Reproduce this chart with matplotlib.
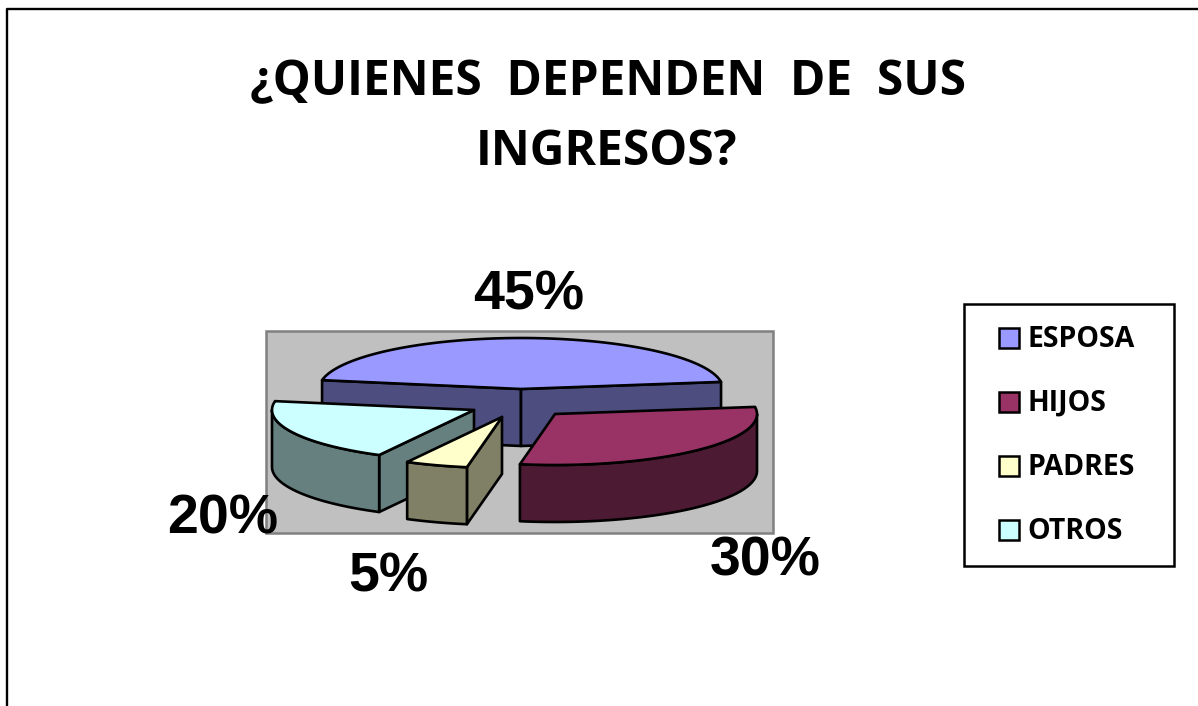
import matplotlib
matplotlib.use('Agg')
import matplotlib.pyplot as plt
from matplotlib.patches import Polygon, Rectangle
import numpy as np

# datos
categorias = ['ESPOSA', 'HIJOS', 'PADRES', 'OTROS']
valores = [45, 30, 5, 20]
colores_top = ['#9999ff', '#993366', '#ffffcc', '#ccffff']
colores_lado = ['#4d4d80', '#4d1a33', '#808066', '#668080']
titulo = ['¿QUIENES  DEPENDEN  DE  SUS', 'INGRESOS?']

# geometria en pixeles de la imagen
RX, RY, ALTO = 202, 51, 57
CENTROS = [(521, 389), (555, 414), (502, 417), (474, 410)]
POS_ETIQUETAS = [(529, 310), (765, 576), (388, 592), (223, 533)]
INICIO = 170
LW = 1.9

fig = plt.figure(figsize=(11.98, 7.06), dpi=100)
ax = fig.add_axes([0, 0, 1, 1])
ax.set_xlim(0, 1198)
ax.set_ylim(706, 0)
ax.axis('off')

# marco exterior
ax.plot([6.5, 6.5, 1198], [706, 9, 9], color='black', lw=1.7)

# titulo
ax.text(608, 95, titulo[0], ha='center', va='baseline', fontsize=34.5,
        fontweight='bold', family='Open Sans')
ax.text(606, 165, titulo[1], ha='center', va='baseline', fontsize=34.5,
        fontweight='bold', family='Open Sans')

# fondo del grafico
ax.add_patch(Rectangle((266, 331), 507, 202, fc='#c0c0c0', ec='#808080', lw=1.8, zorder=1))


def arco(cx, cy, a0, a1):
    t = np.radians(np.linspace(a0, a1, 80))
    return np.column_stack([cx + RX * np.cos(t), cy - RY * np.sin(t)])


def cara(puntos, color, z):
    ax.add_patch(Polygon(puntos, closed=True, fc=color, ec='black', lw=LW,
                         joinstyle='round', zorder=z))


def borde(cx, cy, a, color, z):
    # cara plana del corte, del centro al borde
    t = np.radians(a)
    p = np.array([cx + RX * np.cos(t), cy - RY * np.sin(t)])
    c = np.array([cx, cy])
    baja = np.array([0, ALTO])
    cara([c, p, p + baja, c + baja], color, z)


angulos = INICIO - np.concatenate([[0], np.cumsum(valores)]) * 3.6

# orden de dibujo: de atras hacia adelante
for z, i in enumerate([0, 1, 3, 2]):
    cx, cy = CENTROS[i]
    a0, a1 = angulos[i], angulos[i + 1]
    base = 2 + z * 3
    if np.cos(np.radians(a0)) < 0:
        borde(cx, cy, a0, colores_lado[i], base)
    if np.cos(np.radians(a1)) > 0:
        borde(cx, cy, a1, colores_lado[i], base)
    # pared curva, solo la parte que mira al frente
    v0, v1 = min(a0, 0), max(a1, -180)
    if v0 > v1:
        arriba = arco(cx, cy, v0, v1)
        cara(np.vstack([arriba, (arriba + [0, ALTO])[::-1]]), colores_lado[i], base + 1)
    # cara superior
    cara(np.vstack([[cx, cy], arco(cx, cy, a0, a1)]), colores_top[i], base + 2)

# etiquetas de porcentaje
for v, (x, y) in zip(valores, POS_ETIQUETAS):
    ax.text(x, y, f'{v}%', ha='center', va='baseline', fontsize=40, fontweight='bold',
            family='Liberation Sans', zorder=30)

# leyenda
ax.add_patch(Rectangle((964, 304), 210, 262, fc='white', ec='black', lw=1.8, zorder=20))
for i, nombre in enumerate(categorias):
    y = 338 + i * 64
    ax.add_patch(Rectangle((999, y - 10), 20, 20, fc=colores_top[i], ec='black', lw=1.8, zorder=21))
    ax.text(1027, y + 9, nombre, ha='left', va='baseline', fontsize=20.5, fontweight='bold',
            family='Open Sans', zorder=21)

fig.savefig('out.png', dpi=100)
